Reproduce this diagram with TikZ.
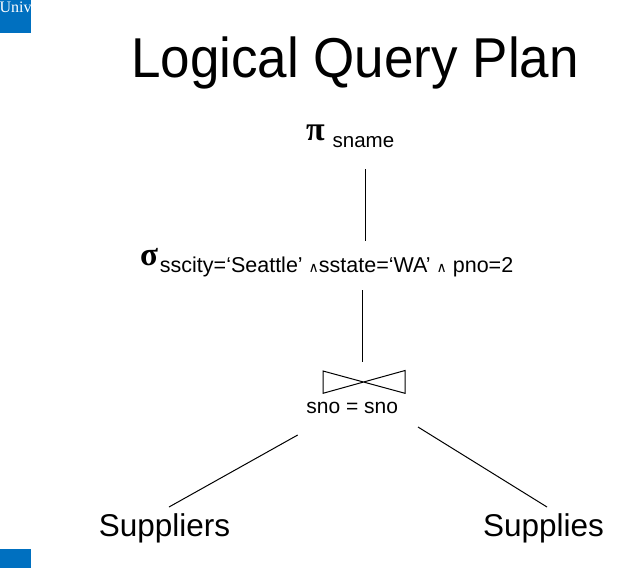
\documentclass[tikz,border=0pt]{standalone}
\usepackage{fontspec}
\setmainfont{Liberation Sans}
\newfontfamily\greekfont{Liberation Serif}
\newfontfamily\symfont{DejaVu Sans}
\definecolor{uniblue}{RGB}{0,112,192}
\newcommand{\andsym}{{\symfont\fontsize{14}{14}\selectfont ∧}}
\begin{document}
\begin{tikzpicture}[x=1pt,y=-1pt,
  txt/.style={inner sep=0pt,outer sep=0pt},
  edge/.style={line width=1pt,black},
  bluebox/.style={fill=uniblue,draw=none}]
\useasboundingbox (0,0) rectangle (624,568);
% corner boxes
\fill[bluebox] (0,0) rectangle (31,33);
\begin{scope}
\clip (0,0) rectangle (31,33);
\node[txt,anchor=base west,text=white,font=\greekfont\fontsize{16}{16}\selectfont] (univ) at (-0.5,12) {Univ};
\end{scope}
\fill[bluebox] (0,549) rectangle (31,568);
% title
\node[txt,anchor=base,font=\fontsize{53}{60}\selectfont] (title) at (355,77) {\scalebox{1}[1.06]{Logical Query Plan}};
% projection
\node[txt,anchor=base west] (proj) at (306,140)
  {{\greekfont\bfseries\fontsize{34}{34}\selectfont π}\hspace{8pt}\raisebox{-7.5pt}{\fontsize{20.5}{22}\selectfont sname}};
% selection
\node[txt,anchor=base west] (sel) at (140,265)
  {{\greekfont\bfseries\fontsize{33}{33}\selectfont σ}\hspace{2pt}\raisebox{-7.7pt}{\fontsize{21.5}{22}\selectfont sscity=‘Seattle’ \andsym sstate=‘WA’ \andsym\ pno=2}};
% join
\coordinate (jc) at (364,382);
\draw[edge] (323,371) -- (405,393.3) -- (405,370.5) -- (323,393.3) -- cycle;
\node[txt,anchor=base,font=\fontsize{21}{22}\selectfont] (cond) at (352.3,413) {sno = sno};
% leaves
\node[txt,anchor=base,font=\fontsize{31.5}{34}\selectfont] (suppliers) at (164.5,536) {Suppliers};
\node[txt,anchor=base,font=\fontsize{31.5}{34}\selectfont] (supplies) at (543.5,536) {Supplies};
% connector end points
\coordinate (a1) at (365,169);
\coordinate (a2) at (365,241);
\coordinate (b1) at (362,290);
\coordinate (b2) at (362,361.5);
\coordinate (c1) at (297.7,435);
\coordinate (c2) at (169,507);
\coordinate (d1) at (418,427);
\coordinate (d2) at (547,507);
\draw[edge] (a1) -- (a2);
\draw[edge] (b1) -- (b2);
\draw[edge] (c1) -- (c2);
\draw[edge] (d1) -- (d2);
\end{tikzpicture}
\end{document}
